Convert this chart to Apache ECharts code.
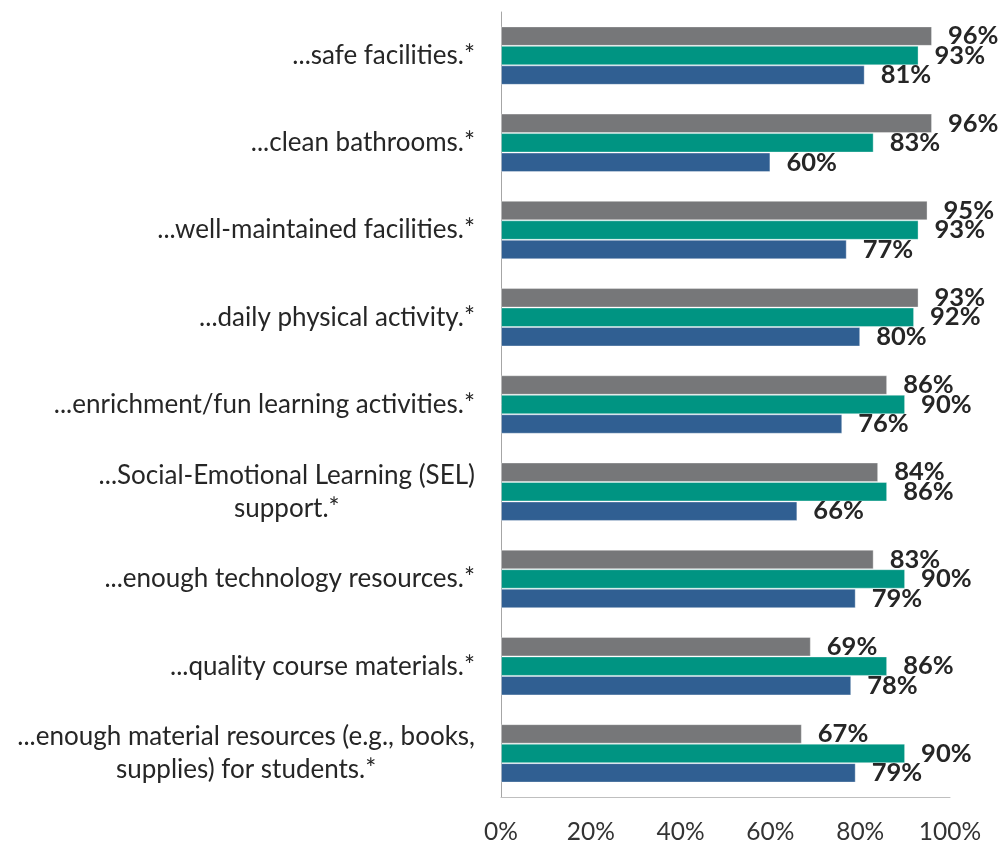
<!DOCTYPE html>
<html>
<head>
<meta charset="utf-8">
<script src="https://cdn.jsdelivr.net/npm/echarts@6/dist/echarts.min.js"></script>
<style>
  html, body { margin: 0; padding: 0; background: #fff; }
  #chart { width: 1002px; height: 845px; }
</style>
</head>
<body>
<div id="chart"></div>
<script>
// categories, top to bottom
const categories = [
  '...safe facilities.*',
  '...clean bathrooms.*',
  '...well-maintained facilities.*',
  '...daily physical activity.*',
  '...enrichment/fun learning activities.*',
  '...Social-Emotional Learning (SEL)\nsupport.*',
  '...enough technology resources.*',
  '...quality course materials.*',
  '...enough material resources (e.g., books,\nsupplies) for students.*'
]

// series values (percent), one per bar colour
const grayValues = [96, 96, 95, 93, 86, 84, 83, 69, 67]
const tealValues = [93, 83, 93, 92, 90, 86, 90, 86, 90]
const blueValues = [81, 60, 77, 80, 76, 66, 79, 78, 79]

const xTicks = [0, 20, 40, 60, 80, 100]

const chart = echarts.init(document.getElementById('chart'))

// shared bar label style
const barLabel = {
  show: true,
  position: 'right',
  distance: 16,
  formatter: '{c}%',
  fontFamily: 'Lato',
  fontWeight: 'bold',
  fontSize: 25.5,
  color: '#262626'
}

function makeSeries(name, values, color) {
  return {
    name: name,
    type: 'bar',
    data: values,
    barGap: '0%',
    barCategoryGap: '33%',
    itemStyle: { color: color, borderColor: 'rgba(255,255,255,0.35)', borderWidth: 1 },
    label: barLabel,
    silent: true
  }
}

chart.setOption({
  animation: false,
  textStyle: { fontFamily: 'Lato' },
  grid: { left: 501, right: 52, top: 12, bottom: 47, containLabel: false },
  xAxis: {
    type: 'value',
    min: 0,
    max: 100,
    interval: 20,
    splitLine: { show: false },
    axisLine: { show: true, lineStyle: { color: '#bfbfbf', width: 1 } },
    axisTick: { show: false },
    axisLabel: {
      margin: 23,
      fontFamily: 'Lato',
      fontSize: 24.5,
      color: '#333',
      formatter: v => xTicks.includes(v) ? v + '%' : ''
    }
  },
  yAxis: {
    type: 'category',
    inverse: true,
    data: categories,
    axisLine: { show: true, lineStyle: { color: '#a6a6a6', width: 1 } },
    axisTick: { show: false },
    axisLabel: {
      margin: 26,
      fontFamily: 'Lato',
      fontSize: 26,
      color: '#262626',
      lineHeight: 33,
      formatter: v => v.split('\n').map(s => '{c|' + s + '}').join('\n'),
      rich: {
        c: { align: 'center', fontFamily: 'Lato', fontSize: 26, color: '#262626', lineHeight: 33 }
      }
    }
  },
  series: [
    makeSeries('A', grayValues, '#767779'),
    makeSeries('B', tealValues, '#009482'),
    makeSeries('C', blueValues, '#305f92')
  ]
})
</script>
</body>
</html>
